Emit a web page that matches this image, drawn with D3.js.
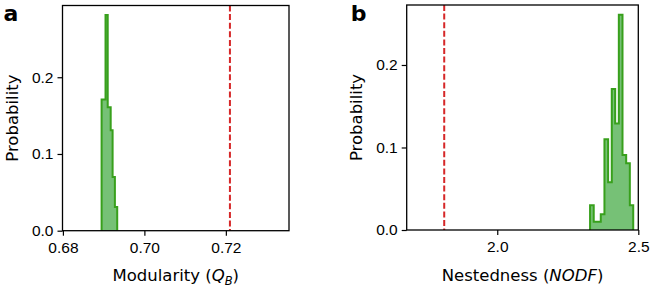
<!DOCTYPE html>
<html>
  <head>
    <title></title>
    <meta charset="UTF-8" />
    <script src="https://cdn.jsdelivr.net/npm/d3@7"></script>
    <style>
      body { margin: 0; background: #fff; }
      svg { display: block; font-family: 'DejaVu Sans', sans-serif; }
    </style>
  </head>
  <body>
    <svg></svg>
    <script>
      // 1. data
      const modEdges = [0.6895, 0.69046, 0.691, 0.69173, 0.6922, 0.69276, 0.69333]
      const modProb = [0.171, 0.281, 0.161, 0.131, 0.07, 0.031]
      const modObserved = 0.721
      const modTicks = [0.68, 0.7, 0.72]

      const nestEdges = [2.329, 2.342, 2.354, 2.367, 2.38, 2.393, 2.406, 2.418, 2.431, 2.444, 2.457, 2.47, 2.482]
      const nestProb = [0.03, 0.01, 0.01, 0.019, 0.11, 0.058, 0.171, 0.129, 0.261, 0.091, 0.081, 0.03]
      const nestObserved = 1.812
      const nestTicks = [2.0, 2.5]

      const probTicks = [0, 0.1, 0.2]

      // 2. canvas
      const width = 653
      const height = 287
      const svg = d3.select('svg').attr('width', width).attr('height', height)

      const panels = [
        {
          label: 'a', edges: modEdges, prob: modProb, observed: modObserved,
          xTicks: modTicks, xFmt: d3.format('.2f'),
          xDomain: [0.6799, 0.7355], yMax: 0.2935,
          box: { left: 62.5, right: 289, top: 5.5, bottom: 230.7 },
          xlabel: ['Modularity (', 'Q', 'B', ')'],
        },
        {
          label: 'b', edges: nestEdges, prob: nestProb, observed: nestObserved,
          xTicks: nestTicks, xFmt: d3.format('.1f'),
          xDomain: [1.679, 2.5], yMax: 0.2727,
          box: { left: 406.7, right: 638.3, top: 5, bottom: 230 },
          xlabel: ['Nestedness (', 'NODF', null, ')'],
        },
      ]

      panels.forEach((p) => {
        const b = p.box
        const x = d3.scaleLinear(p.xDomain, [b.left, b.right])
        const y = d3.scaleLinear([0, p.yMax], [b.bottom, b.top])
        const g = svg.append('g')

        // histogram as step shape
        const pts = [[p.edges[0], 0]]
        p.prob.forEach((v, i) => {
          pts.push([p.edges[i], v])
          pts.push([p.edges[i + 1], v])
        })
        pts.push([p.edges[p.edges.length - 1], 0])
        const line = d3.line().x((d) => x(d[0])).y((d) => y(d[1]))

        g.append('path')
          .attr('d', line(pts) + 'Z')
          .attr('fill', '#2ca02c')
          .attr('fill-opacity', 0.65)
        g.append('path')
          .attr('d', line(pts))
          .attr('fill', 'none')
          .attr('stroke', '#38a01c')
          .attr('stroke-width', 2)

        // observed value
        g.append('line')
          .attr('x1', x(p.observed)).attr('x2', x(p.observed))
          .attr('y1', b.top).attr('y2', b.bottom)
          .attr('stroke', '#d62728')
          .attr('stroke-width', 2)
          .attr('stroke-dasharray', '6,2.6')

        // axes
        const xa = g.append('g')
          .attr('transform', `translate(0,${b.bottom})`)
          .call(d3.axisBottom(x).tickValues(p.xTicks).tickFormat(p.xFmt).tickSize(5).tickPadding(6))
        const ya = g.append('g')
          .attr('transform', `translate(${b.left},0)`)
          .call(d3.axisLeft(y).tickValues(probTicks).tickFormat(d3.format('.1f')).tickSize(5).tickPadding(4))
        ;[xa, ya].forEach((a) => {
          a.select('.domain').remove()
          a.selectAll('line').attr('stroke', '#000').attr('stroke-width', 1.2)
          a.selectAll('text').attr('fill', '#000').style('font-size', '15.5px')
        })

        g.append('rect')
          .attr('x', b.left).attr('y', b.top)
          .attr('width', b.right - b.left).attr('height', b.bottom - b.top)
          .attr('fill', 'none').attr('stroke', '#000').attr('stroke-width', 1.3)

        // labels
        const xl = g.append('text')
          .attr('x', (b.left + b.right) / 2).attr('y', 281)
          .attr('text-anchor', 'middle')
          .style('font-size', '16.5px')
        xl.append('tspan').text(p.xlabel[0])
        xl.append('tspan').attr('font-style', 'italic').text(p.xlabel[1])
        if (p.xlabel[2]) {
          xl.append('tspan').attr('font-style', 'italic').attr('dy', 4).style('font-size', '11.5px').text(p.xlabel[2])
          xl.append('tspan').attr('dy', -4).text(p.xlabel[3])
        } else {
          xl.append('tspan').text(p.xlabel[3])
        }

        g.append('text')
          .attr('transform', `translate(${b.left - 45},${(b.top + b.bottom) / 2}) rotate(-90)`)
          .attr('text-anchor', 'middle')
          .style('font-size', '16.5px')
          .text('Probability')

        g.append('text')
          .attr('x', b.left - (p.label === 'a' ? 59 : 56)).attr('y', 21)
          .style('font-size', '22px')
          .attr('font-weight', 'bold')
          .text(p.label)
      })
    </script>
  </body>
</html>
